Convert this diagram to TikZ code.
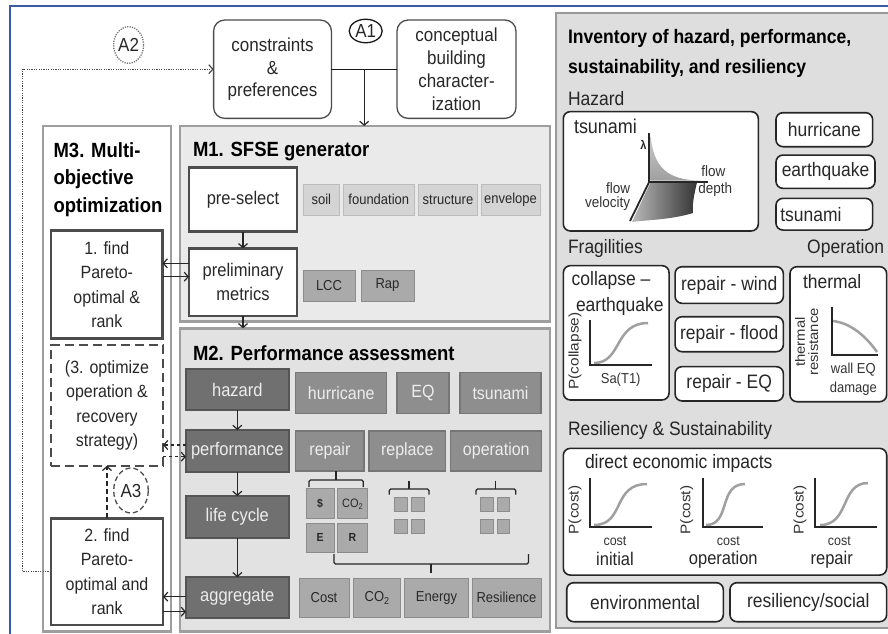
\documentclass[tikz,border=0pt]{standalone}
\usepackage{fontspec}
\setmainfont{Liberation Sans}[FakeStretch=0.9]
\newfontfamily\rotfont{Liberation Sans}[FakeStretch=1.1]
\usetikzlibrary{arrows.meta,calc,shapes.geometric}
\newcommand{\myfs}[2]{\fontsize{\fpeval{#1*1.11}pt}{#2pt}\selectfont}
\newcommand{\myrfs}[2]{\rotfont\fontsize{#1pt}{#2pt}\selectfont}
\newcommand{\subtwo}[1]{{\fontsize{\fpeval{#1*1.11}pt}{#1pt}\selectfont\raisebox{-0.25em}{2}}}
\definecolor{frameblue}{RGB}{60,90,165}
\definecolor{panelfill}{RGB}{222,222,222}
\definecolor{mfillA}{RGB}{234,234,234}
\definecolor{mfillB}{RGB}{226,226,226}
\definecolor{darkbox}{RGB}{112,112,112}
\definecolor{darkboxb}{RGB}{85,85,85}
\definecolor{midbox}{RGB}{142,142,142}
\definecolor{midboxb}{RGB}{118,118,118}
\definecolor{lightbox}{RGB}{212,212,212}
\definecolor{lightboxb}{RGB}{188,188,188}
\definecolor{gboxc}{RGB}{170,170,170}
\definecolor{gboxb}{RGB}{140,140,140}
\definecolor{txt}{RGB}{40,40,40}
\definecolor{curvec}{RGB}{160,160,160}
\tikzset{
  nb/.style={inner sep=0pt, outer sep=0pt, align=center, text=txt},
  mframe/.style={rectangle, draw=black!38, line width=2.5pt, inner sep=0pt, outer sep=0pt},
  rbox/.style={nb, rectangle, rounded corners=11pt, draw=black!70, line width=1.3pt, fill=white, font=\myfs{17}{22.8}},
  circA/.style={nb, ellipse, line width=1.3pt, font=\myfs{17}{17}},
  wbox/.style={nb, rectangle, draw=black!70, line width=2.5pt, fill=white, font=\myfs{16.5}{24.3}},
  lbox/.style={nb, rectangle, draw=lightboxb, line width=1pt, fill=lightbox, font=\myfs{13}{15}},
  gbx/.style={nb, rectangle, draw=gboxb, line width=1pt, fill=gboxc, font=\myfs{13}{15}},
  dbox/.style={nb, rectangle, draw=darkboxb, line width=2pt, fill=darkbox, text=white!93!black, font=\myfs{16.5}{18}},
  mbox/.style={nb, rectangle, draw=midboxb, line width=1.2pt, fill=midbox, text=white!93!black, font=\myfs{16}{18}},
  sqr/.style={nb, rectangle, draw=gboxb, line width=1pt, fill=gboxc, minimum width=12.5pt, minimum height=14pt},
  ibox/.style={nb, rectangle, rounded corners=7pt, draw=black!85, line width=1.6pt, fill=white, font=\myfs{17.5}{20}},
  ttl/.style={nb, text=black, align=left, font=\bfseries\myfs{18.5}{27.5}},
  lbl/.style={nb, text=black!85, align=left, font=\myfs{17.5}{20}},
  sml/.style={nb, text=black!80, font=\myfs{13}{14}},
  rot/.style={nb, text=black!80, rotate=90, font=\myrfs{14}{13.3}},
  arr/.style={-{Straight Barb[length=4pt,width=9pt]}, line width=1.2pt, draw=black!85},
  brc/.style={line width=1.2pt, draw=black!85, rounded corners=1.5pt},
  axl/.style={line width=1.8pt, draw=black!85},
  crv/.style={line width=2.5pt, draw=curvec},
}
\begin{document}
\begin{tikzpicture}[x=1pt,y=-1pt]
\useasboundingbox (0,0) rectangle (888,633);
\fill[white] (0,0) rectangle (888,633);

% blue frame
\draw[frameblue, line width=2pt] (9.5,634) -- (9.5,6) -- (889,6);

% right panel
\draw[draw=black!40, line width=2pt, fill=panelfill] (556,13) rectangle (896,628.3);

% module frames
\node[mframe, fill=white, minimum width=128pt, minimum height=505.5pt] (m3) at (107,378.75) {};
\node[mframe, fill=mfillA, minimum width=370pt, minimum height=195.7pt] (m1) at (365,223.85) {};
\node[mframe, fill=mfillB, minimum width=370pt, minimum height=303.2pt] (m2) at (365,479.9) {};

% top boxes
\node[rbox, minimum width=117.8pt, minimum height=98.3pt] (constr) at (272.5,69.2) {constraints\\\&\\preferences};
\node[rbox, minimum width=119pt, minimum height=98.3pt] (concept) at (456.5,69.2) {conceptual\\building\\character-\\ization};
\node[circA, draw=black!90, minimum width=33pt, minimum height=23.5pt] (a1) at (365.7,31) {A1};
\node[circA, draw=black!55, dash pattern=on 1.2pt off 1.2pt, minimum width=30pt, minimum height=36.6pt] (a2) at (128.6,45) {A2};

\coordinate (mid) at ($(constr.east)!0.5!(concept.west)$);
\draw[line width=1.3pt, black!90] (constr.east) -- (concept.west);
\draw[arr] (mid) -- (mid |- m1.north);

% titles
\node[ttl, anchor=west] (m3t) at (53.6,179.5) {M3. Multi-\\objective\\optimization};
\node[ttl, anchor=west] (m1t) at (193,151.7) {M1. SFSE generator};
\node[ttl, anchor=west] (m2t) at (193,353.3) {M2. Performance assessment};

% M1 content
\node[wbox, minimum width=108pt, minimum height=64.4pt] (presel) at (243,199.5) {pre-select};
\node[wbox, minimum width=108pt, minimum height=67.7pt] (prelim) at (243,282.2) {preliminary\\metrics};
\node[lbox, minimum width=35.4pt, minimum height=31pt] (soil) at (321.3,199.5) {soil};
\node[lbox, minimum width=70.4pt, minimum height=31pt] (found) at (378.8,199.5) {foundation};
\node[lbox, minimum width=58.9pt, minimum height=31pt] (struct) at (448,199.5) {structure};
\node[lbox, minimum width=59pt, minimum height=31pt] (envel) at (510.5,199.5) {envelope};
\node[gbx, minimum width=52pt, minimum height=31pt] (lcc) at (329,285.5) {LCC};
\node[gbx, minimum width=53pt, minimum height=31pt] (rap) at (387.5,285.5) {Rap};
\draw[arr] (presel) -- (prelim);
\draw[arr] (prelim.south) -- (prelim.south |- m2.north);

% M3 content
\node[wbox, font=\myfs{16}{24.3}, minimum width=111.5pt, minimum height=107.6pt] (find1) at (106.8,284.5) {1. find\\Pareto-\\optimal \&\\rank};
\node[wbox, font=\myfs{16}{24.5}, draw=black!70, dash pattern=on 9pt off 5pt, minimum width=112pt, minimum height=120.7pt] (opt3) at (107,405.4) {(3. optimize\\operation \&\\recovery\\strategy)};
\node[wbox, font=\myfs{16}{24.3}, minimum width=112pt, minimum height=106.7pt] (find2) at (107,571.7) {2. find\\Pareto-\\optimal and\\rank};
\node[circA, draw=black!70, dash pattern=on 5pt off 3pt, minimum width=34.6pt, minimum height=45pt] (a3) at (131,490.5) {A3};

\draw[arr] (prelim.west |- 0,263.3) -- (find1.east |- 0,263.3);
\draw[arr] (find1.east |- 0,276.7) -- (prelim.west |- 0,276.7);

% M2 content
\node[dbox, minimum width=102.6pt, minimum height=40.7pt] (hazard) at (237.3,389.7) {hazard};
\node[dbox, minimum width=102.6pt, minimum height=41.7pt] (perf) at (237.3,450.9) {performance};
\node[dbox, minimum width=102.6pt, minimum height=42.3pt] (life) at (237.3,517.2) {life cycle};
\node[dbox, minimum width=102.6pt, minimum height=41pt] (aggr) at (237.3,597.8) {aggregate};
\node[mbox, minimum width=91.1pt, minimum height=40.6pt] (hurr) at (341.3,393) {hurricane};
\node[mbox, minimum width=52pt, minimum height=40.6pt] (eq) at (423,393) {EQ};
\node[mbox, minimum width=81pt, minimum height=40.6pt] (tsu) at (500.5,393) {tsunami};
\node[mbox, minimum width=68.3pt, minimum height=40pt] (repair) at (329.9,451) {repair};
\node[mbox, minimum width=76.7pt, minimum height=40pt] (replace) at (407.3,451) {replace};
\node[mbox, minimum width=91.1pt, minimum height=40pt] (oper) at (496.3,451) {operation};
\node[gbx, minimum width=50pt, minimum height=39pt] (cost) at (324,597.8) {Cost};
\node[gbx, minimum width=47.7pt, minimum height=39pt] (co2) at (376.9,597.8) {CO\subtwo{9}};
\node[gbx, minimum width=64.3pt, minimum height=39pt] (energy) at (436.5,597.8) {Energy};
\node[gbx, minimum width=69pt, minimum height=39pt] (resil) at (506.5,597.8) {Resilience};

\node[gbx, font=\bfseries\myfs{10.5}{12}, minimum width=28pt, minimum height=30pt] (sd) at (320,503.8) {\$};
\node[gbx, font=\myfs{11}{12}, minimum width=29.5pt, minimum height=30pt] (sc) at (352.4,503.8) {CO\subtwo{7.5}};
\node[gbx, font=\bfseries\myfs{10.5}{12}, minimum width=28pt, minimum height=29pt] (se) at (320,537.5) {E};
\node[gbx, font=\bfseries\myfs{10.5}{12}, minimum width=29.5pt, minimum height=29pt] (sr) at (352.4,537.5) {R};

\node[sqr] (q1) at (401.2,504.2) {};
\node[sqr] (q2) at (417.8,504.2) {};
\node[sqr] (q3) at (401.2,526.2) {};
\node[sqr] (q4) at (417.8,526.2) {};
\node[sqr] (q5) at (487,504.2) {};
\node[sqr] (q6) at (503.7,504.2) {};
\node[sqr] (q7) at (487,526.2) {};
\node[sqr] (q8) at (503.7,526.2) {};

% braces
\draw[brc] (309,487) -- (309,480) -- (363.3,480) -- (363.3,487);
\draw[brc] (repair.south -| 336,0) -- (336,480);
\draw[brc] (389.3,494.5) -- (389.3,489) -- (429,489) -- (429,494.5);
\draw[brc] (409,480.5) -- (409,489);
\draw[brc] (476,494.5) -- (476,489) -- (515.7,489) -- (515.7,494.5);
\draw[brc] (495.7,480.5) -- (495.7,489);
\draw[brc] (334,554) -- (334,564) -- (528.5,564) -- (528.5,554);
\draw[brc] (431,564) -- (431,573);

\draw[arr] (hazard) -- (perf);
\draw[arr] (perf) -- (life);
\draw[arr] (life) -- (aggr);
\draw[arr, dashed] (perf.west |- 0,445) -- (opt3.east |- 0,445);
\draw[arr, dashed] (opt3.east |- 0,456.7) -- (perf.west |- 0,456.7);
\draw[arr] (aggr.west |- 0,596.7) -- (find2.east |- 0,596.7);
\draw[arr] (find2.east |- 0,611.7) -- (aggr.west |- 0,611.7);
\draw[arr, dash pattern=on 5pt off 3pt] (find2.north) -- (opt3.south);

% dotted loop
\coordinate (loopx) at (22.5,0);
\draw[arr, black!70, dash pattern=on 1.2pt off 1.2pt] (find2.west) -| (loopx |- constr.west) -- (constr.west);

% ---------- right panel ----------
\node[nb, anchor=west, align=left, text=black, font=\bfseries\myfs{17.6}{30}] (invt) at (568,53.3) {Inventory of hazard, performance,\\sustainability, and resiliency};
\node[lbl, anchor=west] (hazl) at (568,98.3) {Hazard};

\node[ibox, minimum width=195pt, minimum height=119.3pt] (tsubox) at (660.8,171.3) {};
\node[lbl, anchor=west, font=\myfs{18}{20}] (tsut) at (574,126.7) {tsunami};
% 3D surface
\shade[top color=gray!40, bottom color=gray!75] (650.5,134) .. controls (653,168) and (668,180) .. (700,180.5) -- (650.5,180.5) -- cycle;
\shade[left color=gray!55, right color=black!80] (650.5,182.5) -- (697,182.5) .. controls (694,195) and (692,205) .. (693,213) .. controls (670,220) and (645,220) .. (632,222) -- cycle;
\draw[axl] (649.3,133) -- (649.3,181.7) -- (708.3,181.7);
\draw[axl] (649.3,181.7) -- (630,221);
\node[nb, font=\bfseries\myfs{11}{12}] (lam) at (643.3,145) {λ};
\node[sml, font=\myfs{13.5}{14}] (fl1) at (713.3,170.7) {flow};
\node[sml, font=\myfs{13.5}{14}] (fd1) at (715.3,190) {depth};
\node[sml, anchor=east, font=\myfs{13.5}{14}] (fl2) at (630,188.3) {flow};
\node[sml, anchor=east, font=\myfs{13.5}{14}] (fv2) at (630,203.3) {velocity};

\node[ibox, minimum width=96.7pt, minimum height=34pt] (hurrR) at (824.3,129.7) {hurricane};
\node[ibox, minimum width=99pt, minimum height=33.3pt] (eqR) at (825.5,171.7) {earthquake};
\node[ibox, minimum width=96.7pt, minimum height=31.7pt, text width=88pt, align=left] (tsuR) at (824.3,214.2) {tsunami};

\node[lbl, anchor=west] (fragl) at (568,248.3) {Fragilities};
\node[lbl, anchor=east] (operl) at (884,248.3) {Operation};

\node[ibox, minimum width=105.7pt, minimum height=134.3pt] (collbox) at (616.2,332.8) {};
\node[lbl, anchor=west] (colt1) at (571.7,280) {collapse –};
\node[lbl, anchor=west] (colt2) at (576,306.7) {earthquake};
\draw[crv] (594,363) .. controls (622,363) and (614,323) .. (648,323);
\draw[axl] (590,320) -- (590,365) -- (651.7,365);
\node[rot] (pcol) at (575,351) {P(collapse)};
\node[sml] (sat) at (620.7,380) {Sa(T1)};

\node[ibox, minimum width=108.3pt, minimum height=36.6pt] (rwind) at (729.2,285) {repair - wind};
\node[ibox, minimum width=108.3pt, minimum height=35pt] (rflood) at (729.2,334.2) {repair - flood};
\node[ibox, minimum width=108.3pt, minimum height=34.3pt] (req) at (729.2,383.8) {repair - EQ};

\node[ibox, minimum width=96.7pt, minimum height=135pt] (thermbox) at (838.3,334.2) {};
\node[lbl, anchor=west] (thermt) at (803,281.7) {thermal};
\draw[crv] (833,321) .. controls (850,323) and (865,335) .. (877,352);
\draw[axl] (831.7,306.7) -- (831.7,355) -- (878.3,355);
\node[rot, font=\myrfs{13.5}{13.3}] (thres) at (806.7,342) {thermal\\resistance};
\node[sml] (wall) at (853.3,370) {wall EQ};
\node[sml] (dmg) at (853.3,388.3) {damage};

\node[lbl, anchor=west] (ressl) at (568,430) {Resiliency \& Sustainability};
\node[ibox, minimum width=323.4pt, minimum height=126.7pt] (debox) at (725,511.7) {};
\node[lbl, anchor=west] (det) at (585,463.3) {direct economic impacts};

\draw[crv] (594,525) .. controls (625,525) and (612,484) .. (647,484);
\draw[axl] (590,478.3) -- (590,526.7) -- (651.7,526.7);
\node[rot] (pc1) at (575,510) {P(cost)};
\node[sml, font=\myfs{12.5}{13}] (c1) at (615,541.3) {cost};
\node[lbl, font=\myfs{16.5}{18}] (ini) at (615,559.3) {initial};

\draw[crv] (706,525) .. controls (731,525) and (718,484) .. (745,484);
\draw[axl] (702.7,478.3) -- (702.7,526.7) -- (763.3,526.7);
\node[rot] (pc2) at (686.7,510) {P(cost)};
\node[sml, font=\myfs{12.5}{13}] (c2) at (728.3,541.3) {cost};
\node[lbl, font=\myfs{16.5}{18}] (opn) at (723.3,559.3) {operation};

\draw[crv] (820,525) .. controls (850,525) and (840,483) .. (868,483);
\draw[axl] (815,478.3) -- (815,526.7) -- (876.7,526.7);
\node[rot] (pc3) at (800,510) {P(cost)};
\node[sml, font=\myfs{12.5}{13}] (c3) at (839.3,541.3) {cost};
\node[lbl, font=\myfs{16.5}{18}] (rep) at (831.7,559.3) {repair};

\node[ibox, minimum width=156.6pt, minimum height=39pt] (env) at (645,602.2) {environmental};
\node[ibox, minimum width=156.7pt, minimum height=39pt] (ressoc) at (808.3,602.2) {resiliency/social};
\end{tikzpicture}
\end{document}
